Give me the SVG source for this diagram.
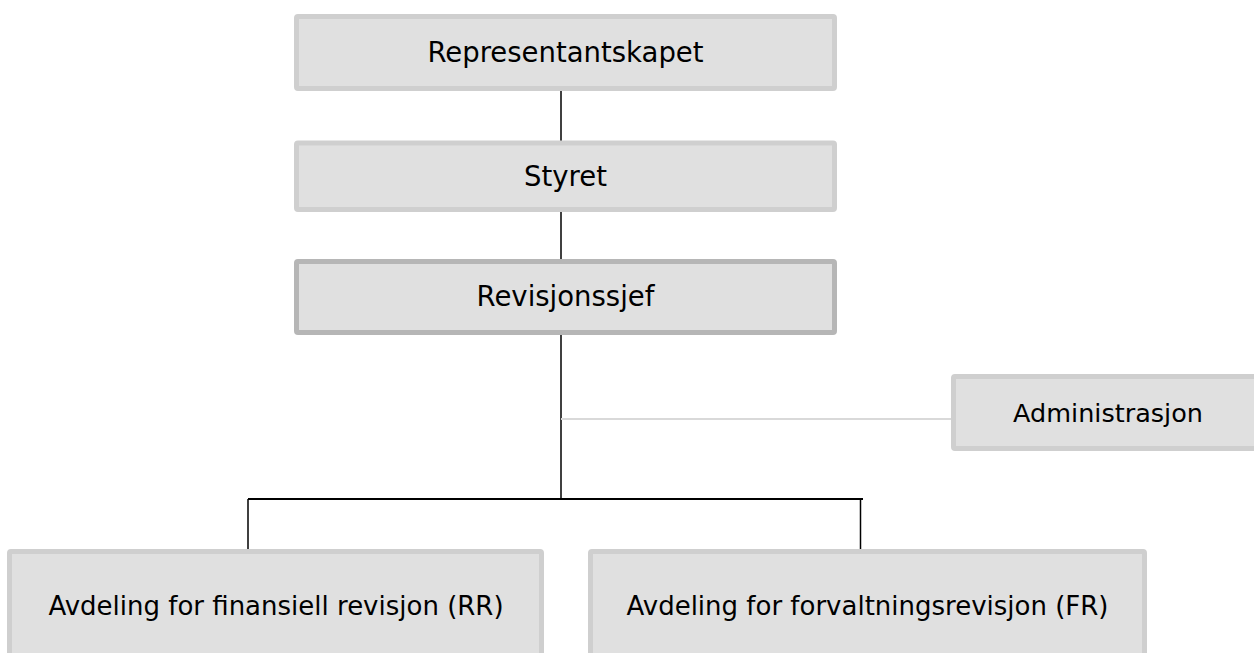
<svg xmlns="http://www.w3.org/2000/svg" width="1254" height="653" viewBox="0 0 1254 653">
<style>
.box{fill:#e0e0e0;stroke:#cfcfcf;stroke-width:5}
.box.dark{stroke:#b6b6b6}
.lbl{font-family:"DejaVu Sans",Verdana,sans-serif;fill:#000;text-anchor:middle}
.ln{stroke:#000;stroke-width:1.5;fill:none}
.hl{stroke:#000;stroke-width:2;fill:none}
.gl{stroke:#d9d9d9;stroke-width:2;fill:none}
</style>
<rect width="1254" height="653" fill="#fff"/>
<g id="connectors">
<line class="ln" x1="561" y1="90" x2="561" y2="141"/>
<line class="ln" x1="561" y1="211" x2="561" y2="260"/>
<line class="ln" x1="561" y1="334" x2="561" y2="499"/>
<line class="gl" x1="561" y1="419" x2="951" y2="419"/>
<line class="hl" x1="248" y1="499" x2="863" y2="499"/>
<line class="ln" x1="248" y1="499" x2="248" y2="550"/>
<line class="ln" x1="860.5" y1="499" x2="860.5" y2="550"/>
</g>
<g id="representantskapet">
<rect class="box" x="296.5" y="16.5" width="538" height="72" rx="1.5"/>
<text class="lbl" x="565.5" y="62" font-size="27.5">Representantskapet</text>
</g>
<g id="styret">
<rect class="box" x="296.5" y="143" width="538" height="66.5" rx="1.5"/>
<text class="lbl" x="565.5" y="186" font-size="27.5">Styret</text>
</g>
<g id="revisjonssjef">
<rect class="box dark" x="296.5" y="261.5" width="538" height="71" rx="1.5"/>
<text class="lbl" x="565.5" y="306" font-size="27.5">Revisjonssjef</text>
</g>
<g id="administrasjon">
<rect class="box" x="953.5" y="376.5" width="320" height="72" rx="1.5"/>
<text class="lbl" x="1108" y="422" font-size="25.5">Administrasjon</text>
</g>
<g id="avd-rr">
<rect class="box" x="9.5" y="551.5" width="532" height="120" rx="1.5"/>
<text class="lbl" x="276" y="615" font-size="26">Avdeling for finansiell revisjon (RR)</text>
</g>
<g id="avd-fr">
<rect class="box" x="590.5" y="551.5" width="554" height="120" rx="1.5"/>
<text class="lbl" x="867.5" y="615" font-size="26">Avdeling for forvaltningsrevisjon (FR)</text>
</g>
</svg>
